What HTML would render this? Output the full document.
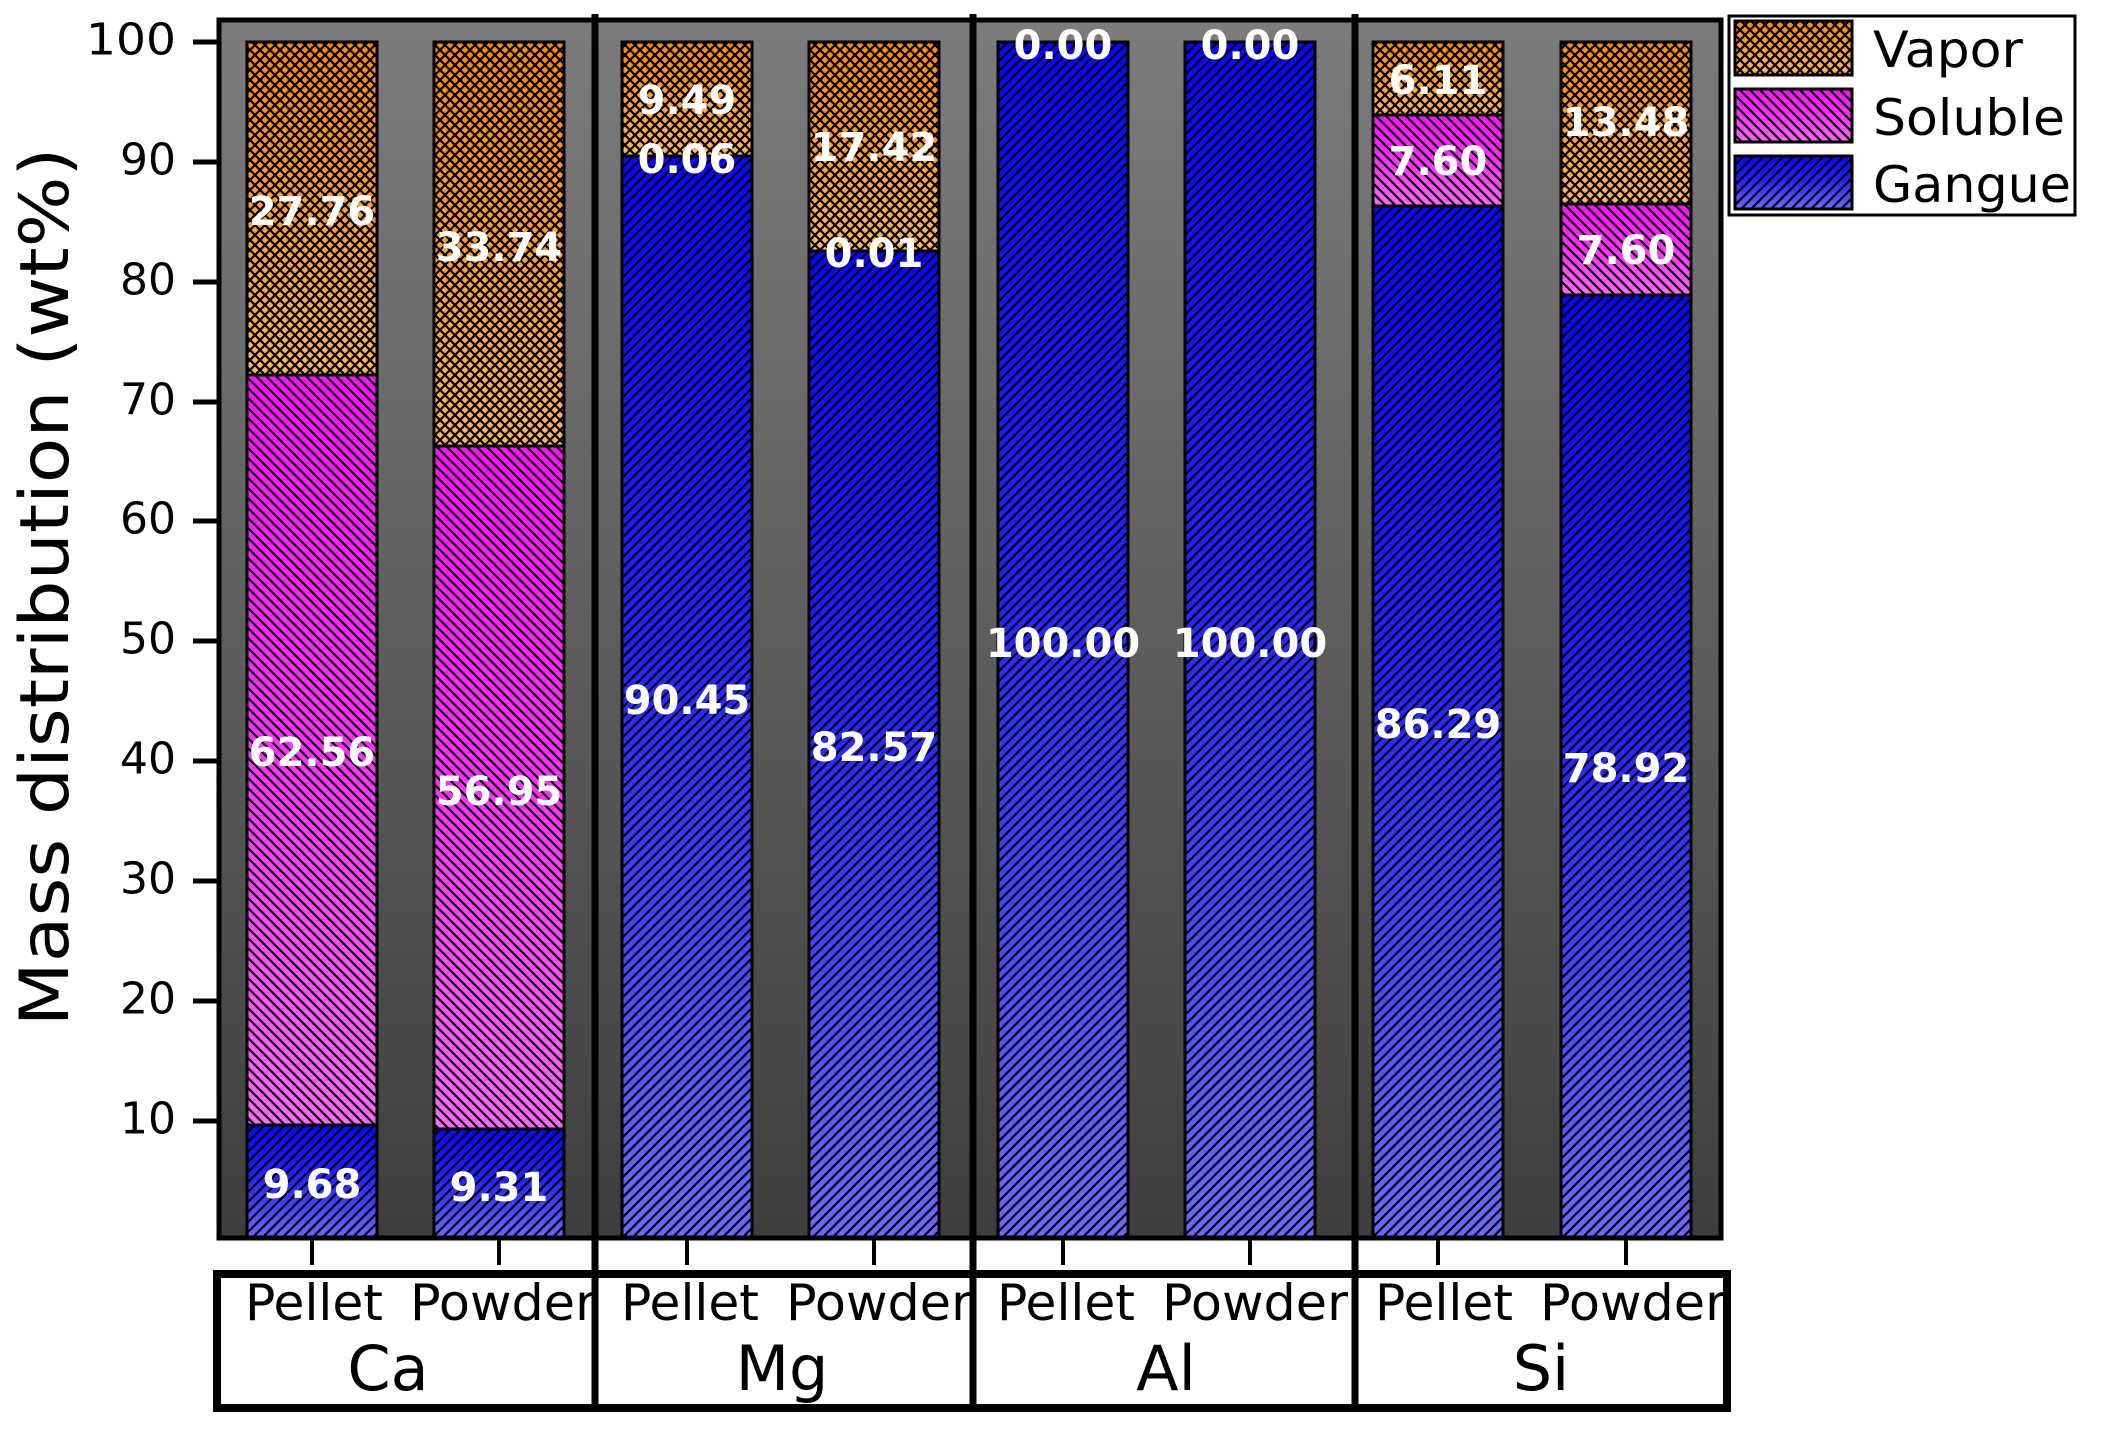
<!DOCTYPE html>
<html><head><meta charset="utf-8"><style>
html,body{margin:0;padding:0;background:#fff;}
svg{display:block;font-family:"DejaVu Sans","Liberation Sans",sans-serif;}
</style></head><body>
<svg width="2102" height="1449" viewBox="0 0 2102 1449" xmlns="http://www.w3.org/2000/svg">
<defs>
<linearGradient id="bg" x1="0" y1="0" x2="0" y2="1">
<stop offset="0" stop-color="#7c7c7c"/><stop offset="0.5" stop-color="#5e5e5e"/><stop offset="1" stop-color="#3e3e3e"/>
</linearGradient>
<linearGradient id="gV" x1="0" y1="0" x2="0" y2="1">
<stop offset="0" stop-color="#ff8a00"/><stop offset="0.45" stop-color="#ff9a30"/><stop offset="1" stop-color="#ffb45e"/>
</linearGradient>
<linearGradient id="gS" x1="0" y1="0" x2="0" y2="1">
<stop offset="0" stop-color="#ff10ff"/><stop offset="0.5" stop-color="#ff30ff"/><stop offset="1" stop-color="#ff66ff"/>
</linearGradient>
<linearGradient id="gG" x1="0" y1="0" x2="0" y2="1">
<stop offset="0" stop-color="#0808ff"/><stop offset="0.45" stop-color="#2222ff"/><stop offset="1" stop-color="#6a6aff"/>
</linearGradient>
<pattern id="pX" patternUnits="userSpaceOnUse" width="10" height="10">
<path d="M-1,1 L1,-1 M0,10 L10,0 M9,11 L11,9 M-1,9 L1,11 M0,0 L10,10 M9,-1 L11,1" stroke="#000" stroke-width="2.2"/>
</pattern>
<pattern id="pB" patternUnits="userSpaceOnUse" width="10" height="10">
<path d="M-1,-1 L11,11 M-6,4 L6,16 M4,-6 L16,6" stroke="#000" stroke-width="2.2"/>
</pattern>
<pattern id="pF" patternUnits="userSpaceOnUse" width="10" height="10">
<path d="M-1,11 L11,-1 M-6,6 L6,-6 M4,16 L16,4" stroke="#000" stroke-width="2.2"/>
</pattern>
</defs>

<!-- plot background -->
<rect x="217" y="19" width="1505" height="1219" fill="url(#bg)"/>

<g stroke="#000" stroke-width="3">
<!-- Ca pellet -->
<g><rect x="247" y="1125" width="130" height="114" fill="url(#gG)"/><rect x="247" y="1125" width="130" height="114" fill="url(#pF)"/>
<rect x="247" y="375" width="130" height="750" fill="url(#gS)"/><rect x="247" y="375" width="130" height="750" fill="url(#pB)"/>
<rect x="247" y="42" width="130" height="333" fill="url(#gV)"/><rect x="247" y="42" width="130" height="333" fill="url(#pX)"/></g>
<!-- Ca powder -->
<g><rect x="434" y="1129" width="130" height="110" fill="url(#gG)"/><rect x="434" y="1129" width="130" height="110" fill="url(#pF)"/>
<rect x="434" y="446" width="130" height="683" fill="url(#gS)"/><rect x="434" y="446" width="130" height="683" fill="url(#pB)"/>
<rect x="434" y="42" width="130" height="404" fill="url(#gV)"/><rect x="434" y="42" width="130" height="404" fill="url(#pX)"/></g>
<!-- Mg pellet -->
<g><rect x="622" y="156" width="130" height="1083" fill="url(#gG)"/><rect x="622" y="156" width="130" height="1083" fill="url(#pF)"/>
<rect x="622" y="42" width="130" height="114" fill="url(#gV)"/><rect x="622" y="42" width="130" height="114" fill="url(#pX)"/></g>
<!-- Mg powder -->
<g><rect x="809" y="251" width="130" height="988" fill="url(#gG)"/><rect x="809" y="251" width="130" height="988" fill="url(#pF)"/>
<rect x="809" y="42" width="130" height="209" fill="url(#gV)"/><rect x="809" y="42" width="130" height="209" fill="url(#pX)"/></g>
<!-- Al -->
<g><rect x="998" y="42" width="130" height="1197" fill="url(#gG)"/><rect x="998" y="42" width="130" height="1197" fill="url(#pF)"/></g>
<g><rect x="1185" y="42" width="130" height="1197" fill="url(#gG)"/><rect x="1185" y="42" width="130" height="1197" fill="url(#pF)"/></g>
<!-- Si pellet -->
<g><rect x="1373" y="206" width="130" height="1033" fill="url(#gG)"/><rect x="1373" y="206" width="130" height="1033" fill="url(#pF)"/>
<rect x="1373" y="115" width="130" height="91" fill="url(#gS)"/><rect x="1373" y="115" width="130" height="91" fill="url(#pB)"/>
<rect x="1373" y="42" width="130" height="73" fill="url(#gV)"/><rect x="1373" y="42" width="130" height="73" fill="url(#pX)"/></g>
<!-- Si powder -->
<g><rect x="1561" y="295" width="130" height="944" fill="url(#gG)"/><rect x="1561" y="295" width="130" height="944" fill="url(#pF)"/>
<rect x="1561" y="204" width="130" height="91" fill="url(#gS)"/><rect x="1561" y="204" width="130" height="91" fill="url(#pB)"/>
<rect x="1561" y="42" width="130" height="162" fill="url(#gV)"/><rect x="1561" y="42" width="130" height="162" fill="url(#pX)"/></g>
</g>

<!-- frame -->
<rect x="219" y="20" width="1502" height="1218" fill="none" stroke="#000" stroke-width="5"/>
<g stroke="#000" stroke-width="7">
<line x1="595" y1="14" x2="595" y2="1412"/>
<line x1="973" y1="14" x2="973" y2="1412"/>
<line x1="1355" y1="14" x2="1355" y2="1412"/>
</g>

<!-- y ticks -->
<g stroke="#000" stroke-width="5">
<line x1="193" y1="42" x2="219" y2="42"/><line x1="193" y1="162" x2="219" y2="162"/><line x1="193" y1="282" x2="219" y2="282"/>
<line x1="193" y1="402" x2="219" y2="402"/><line x1="193" y1="521" x2="219" y2="521"/><line x1="193" y1="641" x2="219" y2="641"/>
<line x1="193" y1="761" x2="219" y2="761"/><line x1="193" y1="881" x2="219" y2="881"/><line x1="193" y1="1001" x2="219" y2="1001"/>
<line x1="193" y1="1121" x2="219" y2="1121"/>
</g>
<g font-size="44" text-anchor="end" fill="#000" dominant-baseline="central">
<text x="176" y="40" textLength="90" lengthAdjust="spacingAndGlyphs">100</text>
<text x="176" y="160">90</text><text x="176" y="280">80</text><text x="176" y="400">70</text>
<text x="176" y="519">60</text><text x="176" y="639">50</text><text x="176" y="759">40</text>
<text x="176" y="879">30</text><text x="176" y="999">20</text><text x="176" y="1119">10</text>
</g>
<text transform="translate(68,587) rotate(-90)" font-size="68" text-anchor="middle" textLength="879" lengthAdjust="spacingAndGlyphs">Mass distribution (wt%)</text>

<!-- x ticks -->
<g stroke="#000" stroke-width="4">
<line x1="312" y1="1238" x2="312" y2="1265"/><line x1="499" y1="1238" x2="499" y2="1265"/>
<line x1="687" y1="1238" x2="687" y2="1265"/><line x1="874" y1="1238" x2="874" y2="1265"/>
<line x1="1063" y1="1238" x2="1063" y2="1265"/><line x1="1250" y1="1238" x2="1250" y2="1265"/>
<line x1="1438" y1="1238" x2="1438" y2="1265"/><line x1="1626" y1="1238" x2="1626" y2="1265"/>
</g>
<!-- category box -->
<rect x="217" y="1274" width="1510" height="134" fill="#fff" stroke="#000" stroke-width="8"/>
<g stroke="#000" stroke-width="7">
<line x1="595" y1="1270" x2="595" y2="1412"/><line x1="973" y1="1270" x2="973" y2="1412"/><line x1="1355" y1="1270" x2="1355" y2="1412"/>
</g>
<g font-size="50" fill="#000">
<text x="245" y="1320" textLength="138" lengthAdjust="spacingAndGlyphs">Pellet</text>
<text x="410" y="1320" textLength="186" lengthAdjust="spacingAndGlyphs">Powder</text>
<text x="621" y="1320" textLength="138" lengthAdjust="spacingAndGlyphs">Pellet</text>
<text x="786" y="1320" textLength="186" lengthAdjust="spacingAndGlyphs">Powder</text>
<text x="997" y="1320" textLength="138" lengthAdjust="spacingAndGlyphs">Pellet</text>
<text x="1162" y="1320" textLength="186" lengthAdjust="spacingAndGlyphs">Powder</text>
<text x="1375" y="1320" textLength="138" lengthAdjust="spacingAndGlyphs">Pellet</text>
<text x="1540" y="1320" textLength="186" lengthAdjust="spacingAndGlyphs">Powder</text>
</g>
<g font-size="62" fill="#000" text-anchor="middle">
<text x="388" y="1390">Ca</text><text x="782" y="1390">Mg</text><text x="1166" y="1390">Al</text><text x="1541" y="1390">Si</text>
</g>

<!-- value labels -->
<g font-size="40" font-weight="bold" fill="#fff" text-anchor="middle" dominant-baseline="central">
<text x="312" y="212">27.76</text><text x="312" y="753">62.56</text><text x="312" y="1185">9.68</text>
<text x="499" y="248">33.74</text><text x="499" y="792">56.95</text><text x="499" y="1188">9.31</text>
<text x="687" y="101">9.49</text><text x="687" y="160">0.06</text><text x="687" y="701">90.45</text>
<text x="874" y="148">17.42</text><text x="874" y="254">0.01</text><text x="874" y="748">82.57</text>
<text x="1063" y="46">0.00</text><text x="1063" y="644">100.00</text>
<text x="1250" y="46">0.00</text><text x="1250" y="644">100.00</text>
<text x="1438" y="81">6.11</text><text x="1438" y="162">7.60</text><text x="1438" y="725">86.29</text>
<text x="1626" y="123">13.48</text><text x="1626" y="251">7.60</text><text x="1626" y="769">78.92</text>
</g>

<!-- legend -->
<rect x="1729" y="16" width="346" height="199" fill="#fff" stroke="#000" stroke-width="3"/>
<g stroke="#000" stroke-width="3">
<rect x="1735" y="21" width="117" height="54" fill="url(#gV)"/><rect x="1735" y="21" width="117" height="54" fill="url(#pX)"/>
<rect x="1735" y="89" width="117" height="53" fill="url(#gS)"/><rect x="1735" y="89" width="117" height="53" fill="url(#pB)"/>
<rect x="1735" y="156" width="117" height="53" fill="url(#gG)"/><rect x="1735" y="156" width="117" height="53" fill="url(#pF)"/>
</g>
<g font-size="50" fill="#000" dominant-baseline="central">
<text x="1873" y="50" textLength="150" lengthAdjust="spacingAndGlyphs">Vapor</text>
<text x="1873" y="118" textLength="192" lengthAdjust="spacingAndGlyphs">Soluble</text>
<text x="1873" y="185" textLength="198" lengthAdjust="spacingAndGlyphs">Gangue</text>
</g>
</svg>
</body></html>
